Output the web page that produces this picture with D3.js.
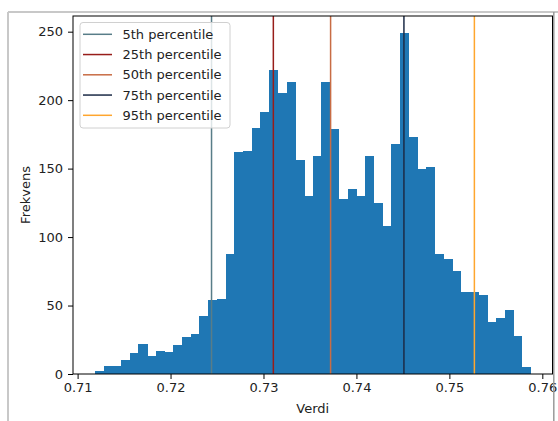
<!DOCTYPE html>
<html>
<head>
<meta charset="utf-8">
<script src="https://cdn.jsdelivr.net/npm/d3@7"></script>
<style>
  html, body { margin: 0; padding: 0; background: #fff; }
  svg { display: block; font-family: "DejaVu Sans", sans-serif; }
</style>
</head>
<body>
<svg id="chart" width="558" height="421"></svg>
<script>
// Histogram bins: first edge, bin width and counts per bin
const binStart = 0.71185;
const binWidth = 0.0009380;
const counts = [2, 6, 6, 10, 15, 22, 13, 17, 16, 21,
                27, 29, 42, 54, 55, 88, 162, 163, 180, 191,
                222, 205, 213, 156, 130, 159, 213, 179, 128, 135,
                130, 159, 125, 108, 168, 249, 173, 150, 151, 88,
                84, 75, 60, 60, 58, 38, 41, 47, 28, 5];

// Percentile markers
const percentileLabels = ["5th percentile", "25th percentile", "50th percentile", "75th percentile", "95th percentile"];
const percentileValues = [0.72441, 0.73106, 0.73722, 0.74511, 0.75269];

// Axis ticks and titles
const xTicks = [0.71, 0.72, 0.73, 0.74, 0.75, 0.76];
const yTicks = [0, 50, 100, 150, 200, 250];
const xTitle = "Verdi";
const yTitle = "Frekvens";

const lineColors = ["#587d88", "#981d1a", "#c86c44", "#1c2b47", "#ffa62e"];
const barColor = "#1f77b4";

const svg = d3.select("#chart");
const plot = { left: 73, right: 552.5, top: 16, bottom: 374 };

// Outer frame
svg.append("line").attr("x1", 8).attr("x2", 558).attr("y1", 12).attr("y2", 12)
  .attr("stroke", "#c8c8c8").attr("stroke-width", 2);
svg.append("line").attr("x1", 8).attr("x2", 8).attr("y1", 12).attr("y2", 421)
  .attr("stroke", "#c8c8c8").attr("stroke-width", 2);

const binEnd = binStart + binWidth * counts.length;
const span = binEnd - binStart;
const x = d3.scaleLinear()
  .domain([binStart - 0.05 * span, binEnd + 0.05 * span])
  .range([plot.left, plot.right]);
const y = d3.scaleLinear()
  .domain([0, d3.max(counts) * 1.05])
  .range([plot.bottom, plot.top]);

// Bars
svg.append("g")
  .attr("shape-rendering", "crispEdges")
  .selectAll("rect")
  .data(counts)
  .join("rect")
  .attr("x", (d, i) => x(binStart + i * binWidth))
  .attr("width", (d, i) => x(binStart + (i + 1) * binWidth) - x(binStart + i * binWidth) + 0.5)
  .attr("y", d => y(d))
  .attr("height", d => y(0) - y(d))
  .attr("fill", barColor);

// Percentile lines
svg.append("g")
  .selectAll("line")
  .data(percentileValues)
  .join("line")
  .attr("x1", d => x(d)).attr("x2", d => x(d))
  .attr("y1", plot.top).attr("y2", plot.bottom)
  .attr("stroke", (d, i) => lineColors[i])
  .attr("stroke-width", 1.5);

// Axes
const xAxis = d3.axisBottom(x).tickValues(xTicks).tickFormat(d3.format(".2f"))
  .tickSize(5).tickPadding(4);
const yAxis = d3.axisLeft(y).tickValues(yTicks).tickFormat(d3.format("d"))
  .tickSize(5).tickPadding(5);

const gx = svg.append("g").attr("transform", `translate(0,${plot.bottom})`).call(xAxis);
const gy = svg.append("g").attr("transform", `translate(${plot.left},0)`).call(yAxis);
[gx, gy].forEach(g => {
  g.select(".domain").remove();
  g.selectAll(".tick line").attr("stroke", "#000").attr("stroke-width", 1);
  g.selectAll(".tick text").attr("fill", "#222").attr("font-size", 13)
    .attr("font-family", "DejaVu Sans, sans-serif");
});

// Spines
svg.append("rect")
  .attr("x", plot.left).attr("y", plot.top)
  .attr("width", plot.right - plot.left).attr("height", plot.bottom - plot.top)
  .attr("fill", "none").attr("stroke", "#000").attr("stroke-width", 1);
svg.append("line").attr("x1", plot.right + 1.3).attr("x2", plot.right + 1.3)
  .attr("y1", 12).attr("y2", 421).attr("stroke", "#9a9a9a").attr("stroke-width", 1.5);

// Axis titles
svg.append("text").attr("x", (plot.left + plot.right) / 2).attr("y", 413)
  .attr("text-anchor", "middle").attr("font-size", 13).attr("fill", "#222").text(xTitle);
svg.append("text").attr("transform", `translate(30,${(plot.top + plot.bottom) / 2}) rotate(-90)`)
  .attr("text-anchor", "middle").attr("font-size", 13).attr("fill", "#222").text(yTitle);

// Legend
const legend = svg.append("g").attr("transform", "translate(80,22.5)");
legend.append("rect").attr("x", 0).attr("y", 0).attr("width", 150).attr("height", 105.5)
  .attr("rx", 3).attr("fill", "#fff").attr("fill-opacity", 0.8)
  .attr("stroke", "#d0d0d0").attr("stroke-width", 1);
const rows = legend.selectAll("g.row").data(percentileLabels).join("g")
  .attr("class", "row")
  .attr("transform", (d, i) => `translate(0,${11.8 + i * 20.25})`);
rows.append("line").attr("x1", 3).attr("x2", 32).attr("y1", 0).attr("y2", 0)
  .attr("stroke", (d, i) => lineColors[i]).attr("stroke-width", 1.5);
rows.append("text").attr("x", 42.5).attr("y", 0).attr("dy", "0.35em")
  .attr("font-size", 13).attr("fill", "#222").text(d => d);
</script>
</body>
</html>
